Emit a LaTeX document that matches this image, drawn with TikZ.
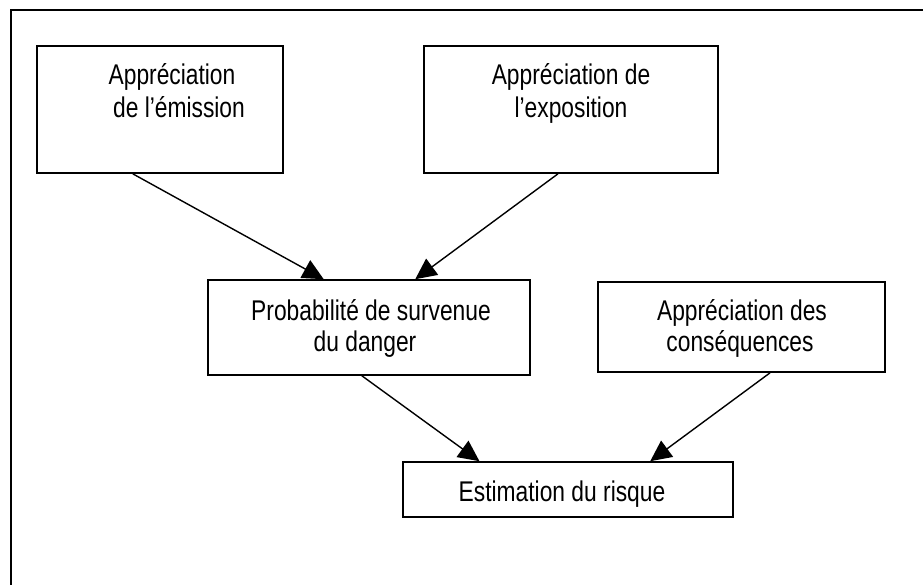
\documentclass[tikz,border=0pt]{standalone}
\usepackage{fontspec}
\setmainfont[FakeStretch=0.8]{Liberation Sans}
\usetikzlibrary{arrows.meta,calc}
\begin{document}
\begin{tikzpicture}[x=1pt,y=-1pt,
  box/.style={draw=black,line width=1.6pt,fill=white,rectangle,inner sep=0pt},
  txt/.style={anchor=base,inner sep=0pt,font=\fontsize{28.5}{32}\selectfont},
  conn/.style={line width=1.4pt,-{Triangle[length=21pt,width=20pt]}},
  frame/.style={line width=1.8pt}]
\useasboundingbox (0,0) rectangle (923,585);
\fill[white] (0,0) rectangle (923,585);
\coordinate (fbl) at (11,590);
\coordinate (ftl) at (11,10);
\coordinate (ftr) at (930,10);
\draw[frame] (fbl) -- (ftl) -- (ftr);

\node[box,minimum width=246pt,minimum height=127pt] (b1) at (160,109.5) {};
\node[box,minimum width=294pt,minimum height=127pt] (b2) at (571,109.5) {};
\node[box,minimum width=322pt,minimum height=95pt] (b3) at (369,327.5) {};
\node[box,minimum width=287pt,minimum height=90pt] (b4) at (741.5,327) {};
\node[box,minimum width=330pt,minimum height=55pt] (b5) at (568,489.5) {};

\node[txt] (t1a) at (172,85) {Appréciation};
\node[txt] (t1b) at (179,118) {de l’émission};
\node[txt] (t2a) at (571,85) {Appréciation de};
\node[txt] (t2b) at (571,118) {l’exposition};
\node[txt] (t3a) at (371,320) {Probabilité de survenue};
\node[txt] (t3b) at (365,351) {du danger};
\node[txt] (t4a) at (742,320) {Appréciation des};
\node[txt] (t4b) at (740,351) {conséquences};
\node[txt] (t5) at (562,501) {Estimation du risque};

\draw[conn] ($(b1.south west)!0.39!(b1.south east)$) -- ($(b3.north west)!0.36!(b3.north east)$);
\draw[conn] ($(b2.south west)!0.456!(b2.south east)$) -- ($(b3.north west)!0.643!(b3.north east)$);
\draw[conn] ($(b3.south west)!0.478!(b3.south east)$) -- ($(b5.north west)!0.233!(b5.north east)$);
\draw[conn] ($(b4.south west)!0.599!(b4.south east)$) -- ($(b5.north west)!0.748!(b5.north east)$);
\end{tikzpicture}
\end{document}
